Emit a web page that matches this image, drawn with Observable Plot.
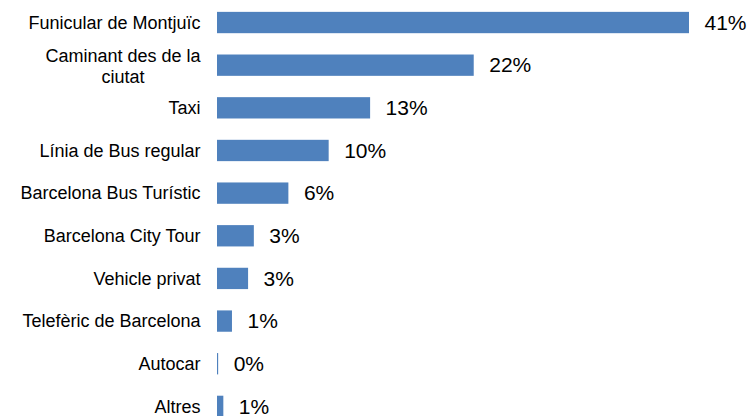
<!DOCTYPE html>
<html>
<head>
<meta charset="utf-8">
<script src="https://cdn.jsdelivr.net/npm/d3@7"></script>
<script src="https://cdn.jsdelivr.net/npm/@observablehq/plot@0.6"></script>
<style>
  body { margin: 0; background: #fff; }
  #chart svg { overflow: hidden; }
</style>
</head>
<body>
<div id="chart"></div>
<script>
const categories = [
  "Funicular de Montjuïc",
  "Caminant des de la\nciutat",
  "Taxi",
  "Línia de Bus regular",
  "Barcelona Bus Turístic",
  "Barcelona City Tour",
  "Vehicle privat",
  "Telefèric de Barcelona",
  "Autocar",
  "Altres"
];
const values = [41.0, 22.3, 13.3, 9.7, 6.2, 3.2, 2.7, 1.3, 0.1, 0.55];
const valueLabels = ["41%", "22%", "13%", "10%", "6%", "3%", "3%", "1%", "0%", "1%"];

const data = categories.map((c, i) => ({cat: c, value: values[i], label: valueLabels[i]}));
const single = data.filter(d => !d.cat.includes("\n"));
const multi = data.filter(d => d.cat.includes("\n"));

const catSize = 18;
const font = `${catSize}px 'Liberation Sans', Arial, sans-serif`;
const ctx = document.createElement("canvas").getContext("2d");
ctx.font = font;
const blockWidth = s => Math.max(...s.split("\n").map(l => ctx.measureText(l).width));

const gap = 17;

const plot = Plot.plot({
  width: 751,
  height: 416,
  marginLeft: 217,
  marginRight: 62,
  marginTop: 0,
  marginBottom: 0,
  style: {fontFamily: "'Liberation Sans', Arial, sans-serif", background: "#fff", overflow: "hidden"},
  x: {domain: [0, 41], axis: null},
  y: {domain: categories, range: [1.2, 427.7], paddingInner: 0.5, paddingOuter: 0.25, round: false, axis: null},
  marks: [
    Plot.barX(data, {x: "value", y: "cat", fill: "#4f81bd"}),
    Plot.text(data, {x: "value", y: "cat", text: "label", textAnchor: "start", dx: 15, fontSize: 21, fill: "#000"}),
    Plot.text(single, {x: 0, y: "cat", text: "cat", textAnchor: "end", dx: -gap, fontSize: catSize, fill: "#000"}),
    ...multi.map(d => Plot.text([d], {x: 0, y: "cat", text: "cat", textAnchor: "middle", dx: -gap - blockWidth(d.cat) / 2, fontSize: catSize, lineHeight: 1.17, fill: "#000"}))
  ]
});
document.getElementById("chart").appendChild(plot);
</script>
</body>
</html>
